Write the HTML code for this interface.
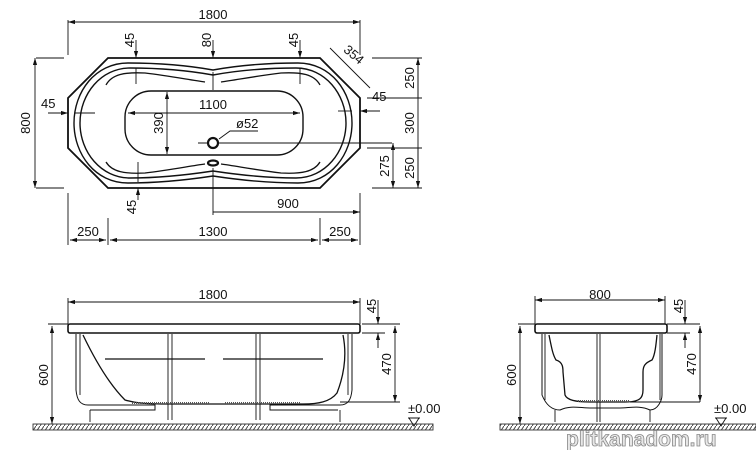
<!DOCTYPE html>
<html><head><meta charset="utf-8"><style>
html,body{margin:0;padding:0;background:#fff;}
svg{display:block;}
text{font-family:"Liberation Sans",sans-serif;font-size:13px;fill:#111;}
</style></head><body>
<svg width="756" height="450" viewBox="0 0 756 450" xmlns="http://www.w3.org/2000/svg">
<defs>
<marker id="a" viewBox="0 0 10 6" refX="10" refY="3" markerWidth="8" markerHeight="5" orient="auto-start-reverse"><path d="M0,0L10,3L0,6z" fill="#111"/></marker>
<pattern id="h" width="4" height="6" patternUnits="userSpaceOnUse"><rect width="4" height="6" fill="#fff"/><path d="M0,6L4,0" stroke="#444" stroke-width="1"/></pattern>
</defs>
<g stroke="#111" fill="none" stroke-width="0.9">
<!-- TOP VIEW -->
<path d="M108,58H320L360,98V148L320,188H108L68,148V98Z" stroke-width="1.8"/>
<path d="M213,70C180,64 150,63 128,63C95,63 74,92 74,123C74,154 95,183 128,183C150,183 180,181 213,176C246,181 276,183 298,183C331,183 352,154 352,123C352,92 331,63 298,63C276,63 246,64 213,70Z" stroke-width="1.4"/>
<path d="M213,75C180,69 150,68 130,68C101,68 80,94 80,123C80,152 101,178 130,178C150,178 180,176 213,171C246,176 276,178 296,178C325,178 346,152 346,123C346,94 325,68 296,68C276,68 246,69 213,75Z" stroke-width="1.4"/>
<path d="M106,85C112,74 125,72 145,73C170,76 190,80 205,82" stroke-width="1.3"/>
<path d="M320,85C314,74 301,72 281,73C256,76 236,80 221,82" stroke-width="1.3"/>
<path d="M106,162C112,172 125,174 145,173C170,170 190,166 205,164" stroke-width="1.3"/>
<path d="M320,162C314,172 301,174 281,173C256,170 236,166 221,164" stroke-width="1.3"/>
<rect x="125" y="91" width="178" height="64" rx="26" stroke-width="1.4"/>
<circle cx="213" cy="143" r="5" stroke-width="2.2"/>
<ellipse cx="213" cy="163" rx="5" ry="2.5" stroke-width="2.2"/>
<path d="M198,143H207M219,143H392"/>
<path d="M219,139L230,131H258" />
<!-- ext lines -->
<path d="M68,20V55M360,20V55M68,193V245M360,193V245M108,218V245M320,218V245M213,168V215"/>
<path d="M36,58H64M36,188H64M372,58H422M372,188H422M367,98H422M367,148H422"/>
<!-- dims -->
<path d="M68,22H360" marker-start="url(#a)" marker-end="url(#a)"/>
<path d="M35,58V188" marker-start="url(#a)" marker-end="url(#a)"/>
<path d="M418,58V98M418,98V148M418,148V188"/>
<path d="M418,58V98" marker-start="url(#a)"/><path d="M418,188V148" marker-start="url(#a)"/>
<path d="M393,143V188" marker-start="url(#a)" marker-end="url(#a)"/>
<path d="M213,212H360" marker-end="url(#a)"/>
<path d="M70,240H106" marker-start="url(#a)" marker-end="url(#a)"/>
<path d="M110,240H318" marker-start="url(#a)" marker-end="url(#a)"/>
<path d="M322,240H358" marker-start="url(#a)" marker-end="url(#a)"/>
<path d="M128,113H300" marker-start="url(#a)" marker-end="url(#a)"/>
<path d="M167,92V154" marker-start="url(#a)" marker-end="url(#a)"/>
<path d="M136,40V58" marker-end="url(#a)"/><path d="M136,68V84"/>
<path d="M213,40V58" marker-end="url(#a)"/><path d="M213,72V90"/>
<path d="M300,40V58" marker-end="url(#a)"/><path d="M300,68V84"/>
<path d="M138,200V188" marker-end="url(#a)"/><path d="M138,162V182"/>
<path d="M48,113H68" marker-end="url(#a)"/><path d="M75,113H95"/>
<path d="M380,111H360" marker-end="url(#a)"/><path d="M338,111H352"/>
<path d="M330,48L370,88"/>
<!-- SIDE VIEW -->
<path d="M68,302H360" marker-start="url(#a)" marker-end="url(#a)"/>
<path d="M68,298V324M360,298V324M48,324H68M362,324H400M362,333H385M340,402H400"/>
<rect x="68" y="324" width="292" height="9" rx="2" stroke-width="1.6"/>
<path d="M52,326V424" marker-start="url(#a)" marker-end="url(#a)"/>
<path d="M378,300V324" marker-end="url(#a)"/><path d="M378,348V333" marker-end="url(#a)"/>
<path d="M395,326V402" marker-start="url(#a)" marker-end="url(#a)"/>
<path d="M83,335C95,360 110,385 125,400C135,403 145,404 170,404H303C318,404 330,402 337,393C344,375 347,355 343,335" stroke-width="1.3"/>
<path d="M76,334V390C77,400 80,405 88,405H155V410H90M352,334V390C351,400 348,405 340,405H270V410H338" stroke-width="1"/>
<path d="M80,334V395M348,334V395"/>
<path d="M168,334V420M172,334V420M256,334V420M260,334V420M90,410V422M340,410V422" stroke-width="0.9"/>
<path d="M105,359H205M223,359H323" stroke-width="1.2"/>
<path d="M132,403H210M225,403H300" stroke="#555" stroke-width="2" stroke-dasharray="1 1"/>
<rect x="33" y="424" width="400" height="6" fill="url(#h)" stroke="#333"/>
<path d="M408,418H420M409,418L414,426L419,418"/>
<!-- END VIEW -->
<path d="M535,300H665" marker-start="url(#a)" marker-end="url(#a)"/>
<path d="M535,296V324M665,296V324M518,324H535M667,324H700M667,333H690M630,402H700"/>
<rect x="535" y="324" width="132" height="9" rx="2" stroke-width="1.6"/>
<path d="M520,326V424" marker-start="url(#a)" marker-end="url(#a)"/>
<path d="M685,300V324" marker-end="url(#a)"/><path d="M685,348V333" marker-end="url(#a)"/>
<path d="M700,326V402" marker-start="url(#a)" marker-end="url(#a)"/>
<path d="M549,335C552,350 553,355 556,360C563,362 563,368 563,372L565,395C567,400 575,402 590,402H625C640,402 643,398 643,390V372C643,366 645,363 652,360C655,355 656,345 657,335" stroke-width="1.3"/>
<path d="M542,334V395C546,405 552,410 560,410C570,405 580,408 590,408H620C630,408 640,405 650,410C658,410 662,400 662,395V334" stroke-width="1"/>
<path d="M545,334V400M660,334V400M597,334V422M600,334V422M555,410V422M650,410V422" stroke-width="0.9"/>
<path d="M578,401H630" stroke="#555" stroke-width="2" stroke-dasharray="1 1"/>
<rect x="500" y="424" width="256" height="6" fill="url(#h)" stroke="#333"/>
<path d="M715,418H727M716,418L721,426L726,418"/>
</g>
<g>
<text x="213" y="19" text-anchor="middle">1800</text>
<text x="213" y="109" text-anchor="middle">1100</text>
<text x="236" y="128">ø52</text>
<text x="288" y="208" text-anchor="middle">900</text>
<text x="88" y="236" text-anchor="middle">250</text>
<text x="213" y="236" text-anchor="middle">1300</text>
<text x="340" y="236" text-anchor="middle">250</text>
<text x="41" y="108">45</text>
<text x="372" y="101">45</text>
<text transform="translate(30,123) rotate(-90)" text-anchor="middle">800</text>
<text transform="translate(163,123) rotate(-90)" text-anchor="middle">390</text>
<text transform="translate(134,40) rotate(-90)" text-anchor="middle">45</text>
<text transform="translate(211,40) rotate(-90)" text-anchor="middle">80</text>
<text transform="translate(298,40) rotate(-90)" text-anchor="middle">45</text>
<text transform="translate(136,207) rotate(-90)" text-anchor="middle">45</text>
<text transform="translate(414,78) rotate(-90)" text-anchor="middle">250</text>
<text transform="translate(414,123) rotate(-90)" text-anchor="middle">300</text>
<text transform="translate(414,168) rotate(-90)" text-anchor="middle">250</text>
<text transform="translate(389,166) rotate(-90)" text-anchor="middle">275</text>
<text transform="translate(351,58) rotate(40)" text-anchor="middle">354</text>
<text x="213" y="299" text-anchor="middle">1800</text>
<text transform="translate(48,375) rotate(-90)" text-anchor="middle">600</text>
<text transform="translate(376,306) rotate(-90)" text-anchor="middle">45</text>
<text transform="translate(391,364) rotate(-90)" text-anchor="middle">470</text>
<text x="408" y="413" font-size="11">±0.00</text>
<text x="600" y="299" text-anchor="middle">800</text>
<text transform="translate(516,375) rotate(-90)" text-anchor="middle">600</text>
<text transform="translate(683,306) rotate(-90)" text-anchor="middle">45</text>
<text transform="translate(696,364) rotate(-90)" text-anchor="middle">470</text>
<text x="714" y="413" font-size="11">±0.00</text>
<text x="566" y="446" style="font-size:21px;font-weight:bold;fill:#e8e8e8;stroke:#888;stroke-width:0.8">plitkanadom.ru</text>
</g>
</svg>
</body></html>
